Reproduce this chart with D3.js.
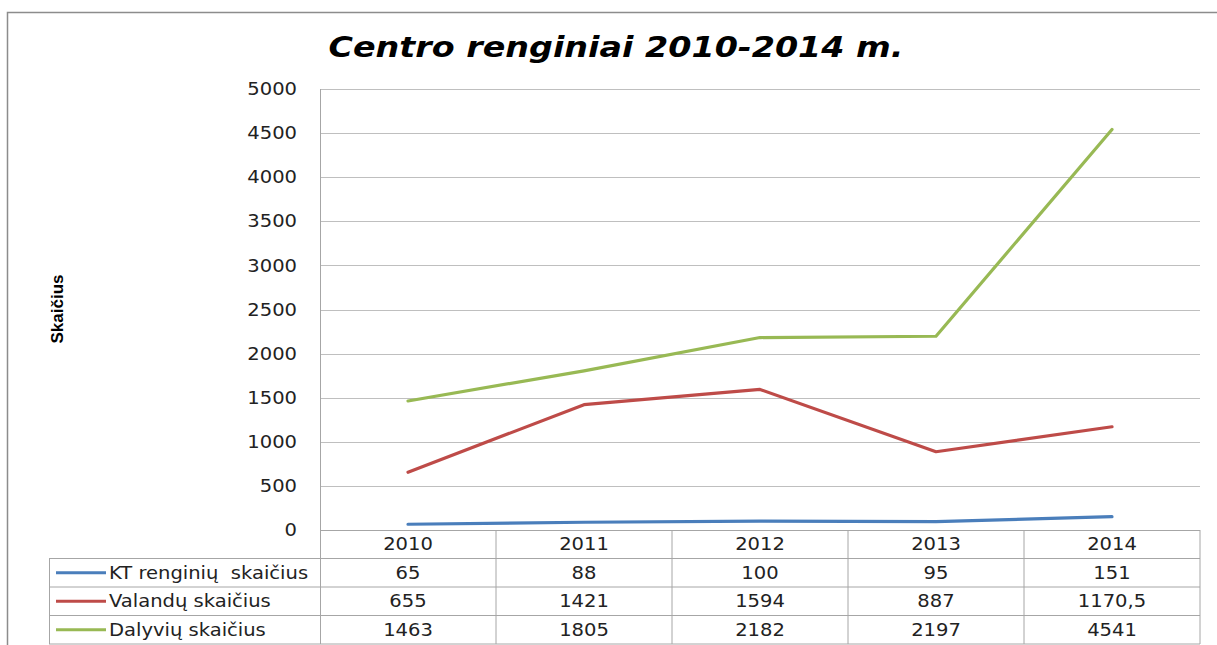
<!DOCTYPE html>
<html><head><meta charset="utf-8">
<script src="https://cdn.jsdelivr.net/npm/d3@7"></script>
<style>body{margin:0;background:#fff;}svg{display:block;}</style>
</head><body>
<script>
const years = ["2010","2011","2012","2013","2014"];
const seriesNames = ["KT renginių  skaičius","Valandų skaičius","Dalyvių skaičius"];
const ktValues = [65,88,100,95,151];
const valValues = [655,1421,1594,887,1170.5];
const dalValues = [1463,1805,2182,2197,4541];
const valLabels = ["655","1421","1594","887","1170,5"];
const yTicks = [0,500,1000,1500,2000,2500,3000,3500,4000,4500,5000];
const colors = ["#4A7EBB","#BE4B48","#98B954"];

(function(){
const W=1217,H=645;
const SX=1.15;
const svg=d3.select("body").append("svg").attr("width",W).attr("height",H);
const font="DejaVu Sans, Verdana, sans-serif";
// outer border
svg.append("path").attr("d","M7.5,645 V12.5 H1217").attr("fill","none").attr("stroke","#8c8c8c").attr("stroke-width",1.5);

const pLeft=320,pRight=1200,pTop=89,pBottom=530;
const x=d3.scaleBand().domain(years).range([pLeft,pRight]);
const y=d3.scaleLinear().domain([0,5000]).range([pBottom,pTop]);

// gridlines
svg.append("g").selectAll("line").data(yTicks.filter(d=>d>0)).join("line")
 .attr("x1",pLeft).attr("x2",pRight).attr("y1",d=>Math.round(y(d))+0.5).attr("y2",d=>Math.round(y(d))+0.5)
 .attr("stroke","#bfbfbf").attr("stroke-width",1);

function tr(xx,yy){return `translate(${xx},${yy}) scale(${SX},1)`;}

// y axis labels
svg.append("g").selectAll("text").data(yTicks).join("text")
 .attr("transform",d=>tr(297,y(d))).attr("dy","0.36em").attr("text-anchor","end")
 .attr("font-family",font).attr("font-size",17).attr("fill","#222").text(d=>d);

// y title
svg.append("text").attr("transform","translate(63,309) rotate(-90)").attr("text-anchor","middle")
 .attr("font-family","Liberation Sans Narrow, Liberation Sans, sans-serif").attr("font-weight","bold").attr("font-size",17).text("Skaičius");

// title
svg.append("text").attr("transform",tr(616,57)).attr("text-anchor","middle")
 .attr("font-family",font).attr("font-weight","bold").attr("font-style","italic").attr("font-size",29).text("Centro renginiai 2010-2014 m.");

// table
const rowH=28.5;
const tLeft=49;
const tb=svg.append("g").attr("stroke","#a6a6a6").attr("stroke-width",1);
tb.append("line").attr("x1",pLeft).attr("x2",pRight).attr("y1",pBottom+0.5).attr("y2",pBottom+0.5);
for(let i=1;i<=4;i++){
  tb.append("line").attr("x1",tLeft).attr("x2",pRight).attr("y1",pBottom+i*rowH).attr("y2",pBottom+i*rowH);
}
tb.append("line").attr("x1",pLeft+0.5).attr("x2",pLeft+0.5).attr("y1",pTop).attr("y2",pBottom+4*rowH);
tb.append("line").attr("x1",tLeft+0.5).attr("x2",tLeft+0.5).attr("y1",pBottom+rowH).attr("y2",pBottom+4*rowH);
years.forEach((yr)=>{
  const xx=x(yr)+x.bandwidth();
  tb.append("line").attr("x1",xx).attr("x2",xx).attr("y1",pBottom).attr("y2",pBottom+4*rowH);
});
// years header
svg.append("g").selectAll("text").data(years).join("text")
 .attr("transform",d=>tr(x(d)+x.bandwidth()/2,pBottom+rowH/2)).attr("dy","0.36em").attr("text-anchor","middle")
 .attr("font-family",font).attr("font-size",17).attr("fill","#222").text(d=>d);

const rows=[ktValues.map(String), valLabels, dalValues.map(String)];
rows.forEach((r,ri)=>{
  const cy=pBottom+rowH*(ri+1)+rowH/2;
  svg.append("line").attr("x1",56).attr("x2",106).attr("y1",cy).attr("y2",cy).attr("stroke",colors[ri]).attr("stroke-width",3);
  svg.append("text").attr("transform",tr(109,cy)).attr("dy","0.36em").attr("font-family",font).attr("font-size",17).attr("fill","#222")
    .style("white-space","pre").text(seriesNames[ri]);
  svg.append("g").selectAll("text").data(r).join("text")
   .attr("transform",(d,i)=>tr(x(years[i])+x.bandwidth()/2,cy)).attr("dy","0.36em").attr("text-anchor","middle")
   .attr("font-family",font).attr("font-size",17).attr("fill","#222").text(d=>d);
});

// lines
const line=d3.line().x((d,i)=>x(years[i])+x.bandwidth()/2).y(d=>y(d));
[ktValues,valValues,dalValues].forEach((s,i)=>{
  svg.append("path").datum(s).attr("d",line).attr("fill","none").attr("stroke",colors[i]).attr("stroke-width",3.2).attr("stroke-linecap","round").attr("stroke-linejoin","round");
});
})();
</script>
</body></html>
